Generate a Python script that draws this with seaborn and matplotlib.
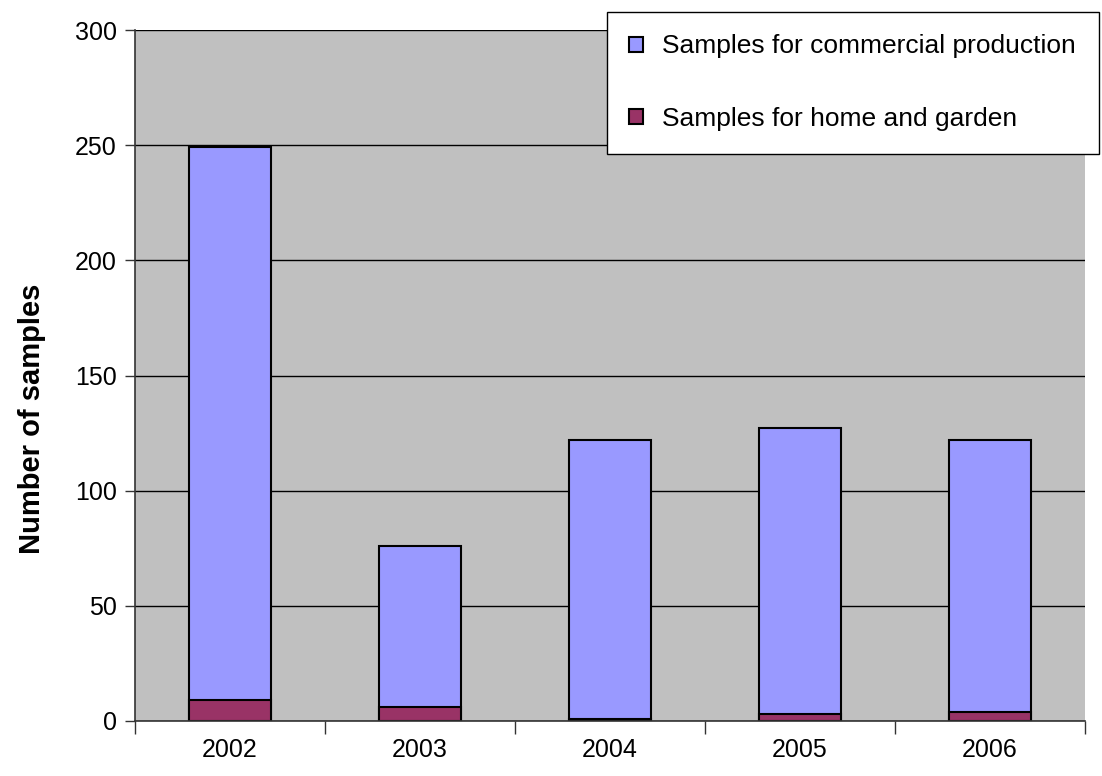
import matplotlib
matplotlib.use("Agg")
import matplotlib.pyplot as plt
import seaborn as sns
import pandas as pd
from matplotlib.ticker import FixedLocator

years = ["2002", "2003", "2004", "2005", "2006"]
home_garden = [9, 6, 1, 3, 4]
commercial = [240, 70, 121, 124, 118]
totals = [c + h for c, h in zip(commercial, home_garden)]
y_ticks = [0, 50, 100, 150, 200, 250, 300]

df = pd.DataFrame({"year": years, "home": home_garden, "commercial": commercial, "total": totals})

sns.set_style("white")
plt.rcParams["font.family"] = ["Liberation Sans", "DejaVu Sans"]
plt.rcParams["text.color"] = "black"
plt.rcParams["axes.labelcolor"] = "black"
plt.rcParams["xtick.color"] = "black"
plt.rcParams["ytick.color"] = "black"

fig = plt.figure(figsize=(11.02, 7.76), dpi=100)
ax = fig.add_axes([135 / 1102, 55 / 776, 950 / 1102, 691 / 776])
ax.set_facecolor("#C0C0C0")
ax.set_axisbelow(True)

sns.barplot(data=df, x="year", y="total", color="#9999FF", width=0.43,
            edgecolor="black", linewidth=1.5, saturation=1,
            label="Samples for commercial production", ax=ax)
sns.barplot(data=df, x="year", y="home", color="#993366", width=0.43,
            edgecolor="black", linewidth=1.5, saturation=1,
            label="Samples for home and garden", ax=ax)
if ax.get_legend() is not None:
    ax.get_legend().remove()

ax.set_xlim(-0.5, len(years) - 0.5)
ax.set_ylim(0, 300)
ax.set_yticks(y_ticks)
ax.yaxis.grid(True, color="black", linewidth=1)
ax.xaxis.grid(False)
for s in ["top", "right"]:
    ax.spines[s].set_visible(False)
for s in ["left", "bottom"]:
    ax.spines[s].set_color("#333333")
    ax.spines[s].set_linewidth(1.2)

ax.tick_params(axis="y", which="major", direction="out", length=7, width=1, color="#333333",
               labelsize=18, left=True, pad=6)
ax.tick_params(axis="x", which="major", length=0, labelsize=18, pad=12)
ax.xaxis.set_minor_locator(FixedLocator([i - 0.5 for i in range(len(years) + 1)]))
ax.tick_params(axis="x", which="minor", direction="out", length=9, width=1, color="#333333", bottom=True)

ax.set_xlabel("")
ax.set_ylabel("Number of samples", fontsize=21, fontweight="bold")
ax.yaxis.set_label_coords(-0.094, 0.437)

handles, labels = ax.get_legend_handles_labels()
leg = fig.legend(handles, labels, loc="upper left", bbox_to_anchor=(607 / 1102, 1 - 12 / 776),
                 borderaxespad=0, frameon=True, fancybox=False, fontsize=19,
                 handlelength=0.5, handleheight=0.5, handletextpad=0.75,
                 labelspacing=1.85, borderpad=0.85)
leg.get_frame().set_edgecolor("black")
leg.get_frame().set_linewidth(1)
leg.get_frame().set_facecolor("white")
leg.get_frame().set_alpha(1)

fig.savefig("out.png", dpi=100)
